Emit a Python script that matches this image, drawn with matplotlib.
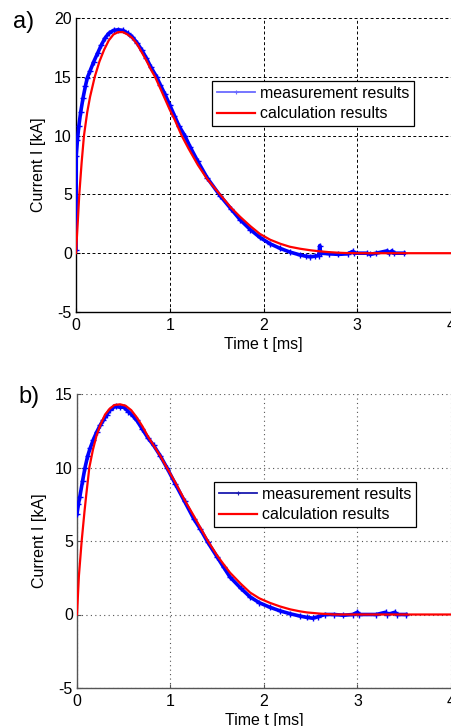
import matplotlib
matplotlib.use("Agg")
import matplotlib.pyplot as plt
from matplotlib.lines import Line2D

plt.rcParams['font.family'] = ['Liberation Sans', 'DejaVu Sans']

# ---------------- data: panel a) ----------------
t_meas_a = [0.0, 0.003, 0.015, 0.03, 0.05, 0.075, 0.1, 0.12, 0.15, 0.19, 0.23, 0.27, 0.31,
            0.35, 0.4, 0.45, 0.5, 0.55, 0.6, 0.65, 0.7, 0.75, 0.8, 0.86, 0.9, 0.95, 1.0,
            1.05, 1.1, 1.16, 1.22, 1.3, 1.4, 1.536, 1.65, 1.75, 1.86, 1.96, 2.07, 2.18,
            2.28, 2.39, 2.45, 2.5, 2.55, 2.59, 2.6, 2.61, 2.7, 2.8, 2.9, 2.95, 2.97, 3.1,
            3.14, 3.2, 3.32, 3.34, 3.37, 3.39, 3.5]
i_meas_a = [0.3, 8.3, 9.6, 10.8, 12.0, 13.2, 14.2, 14.9, 15.5, 16.3, 17.0, 17.7, 18.3,
            18.7, 18.95, 19.0, 18.95, 18.7, 18.4, 17.9, 17.3, 16.6, 15.8, 15.0, 14.3, 13.5, 12.6,
            11.7, 10.8, 10.0, 9.0, 7.8, 6.4, 4.9, 3.8, 2.85, 2.0, 1.35, 0.8, 0.4,
            0.1, -0.15, -0.25, -0.3, -0.25, -0.2, 0.65, 0.0, -0.05, -0.1, -0.05, 0.15, 0.0, 0.0,
            -0.1, 0.0, 0.2, 0.0, 0.2, 0.0, 0.0]

t_calc_a = [0.0, 0.02, 0.035, 0.06, 0.085, 0.12, 0.15, 0.2, 0.25, 0.3, 0.35, 0.4, 0.45,
            0.5, 0.55, 0.6, 0.65, 0.7, 0.75, 0.8, 0.843, 0.9, 0.95, 1.0, 1.05, 1.127,
            1.2, 1.3, 1.4, 1.536, 1.65, 1.75, 1.86, 1.96, 2.07, 2.18, 2.28, 2.39, 2.5,
            2.6, 2.7, 2.8, 2.9, 3.0, 3.5, 4.0]
i_calc_a = [0.0, 2.8, 5.0, 7.7, 10.0, 12.0, 13.3, 15.0, 16.3, 17.3, 18.1, 18.6, 18.8,
            18.8, 18.6, 18.3, 17.8, 17.1, 16.4, 15.6, 15.0, 14.0, 13.1, 12.2, 11.4, 10.0,
            8.9, 7.5, 6.3, 5.0, 3.9, 3.1, 2.3, 1.65, 1.15, 0.8, 0.55, 0.38, 0.25,
            0.16, 0.09, 0.04, 0.01, 0.0, 0.0, 0.0]

# ---------------- data: panel b) ----------------
t_meas_b = [0.0, 0.015, 0.03, 0.06, 0.086, 0.115, 0.14, 0.175, 0.21, 0.25, 0.28, 0.32,
            0.35, 0.39, 0.42, 0.46, 0.5, 0.55, 0.6, 0.64, 0.7, 0.76, 0.82, 0.89, 0.96,
            1.05, 1.15, 1.25, 1.32, 1.4, 1.5, 1.57, 1.636, 1.75, 1.85, 1.95, 2.06, 2.17,
            2.28, 2.38, 2.46, 2.52, 2.58, 2.65, 2.75, 2.85, 2.95, 3.0, 3.02, 3.2, 3.3,
            3.32, 3.4, 3.42, 3.52]
i_meas_b = [6.85, 7.5, 8.0, 9.1, 10.0, 10.8, 11.3, 11.9, 12.4, 12.9, 13.2, 13.6,
            13.9, 14.1, 14.15, 14.1, 14.1, 13.8, 13.5, 13.2, 12.6, 12.0, 11.5, 10.8, 10.0,
            8.9, 7.7, 6.5, 5.8, 4.9, 3.9, 3.2, 2.55, 1.8, 1.2, 0.8, 0.5, 0.25,
            0.05, -0.1, -0.2, -0.25, -0.15, 0.0, 0.0, -0.05, 0.0, 0.15, 0.0, 0.0, 0.15,
            0.0, 0.15, 0.0, 0.0]

t_calc_b = [0.0, 0.02, 0.05, 0.08, 0.1, 0.132, 0.17, 0.21, 0.25, 0.3, 0.35, 0.4, 0.46,
            0.52, 0.58, 0.64, 0.7, 0.76, 0.82, 0.89, 0.96, 1.05, 1.15, 1.25, 1.32, 1.4,
            1.5, 1.57, 1.636, 1.75, 1.85, 1.95, 2.06, 2.17, 2.28, 2.38, 2.46, 2.6, 2.75, 4.0]
i_calc_b = [0.0, 2.6, 5.0, 7.0, 8.2, 10.0, 11.2, 12.2, 12.9, 13.6, 14.0, 14.25, 14.3,
            14.2, 13.9, 13.4, 12.8, 12.1, 11.5, 10.8, 10.0, 9.0, 7.8, 6.7, 5.9, 5.0,
            4.0, 3.4, 2.85, 2.1, 1.5, 1.1, 0.8, 0.55, 0.35, 0.22, 0.14, 0.06, 0.0, 0.0]

xticks = [0, 1, 2, 3, 4]
yticks_a = [-5, 0, 5, 10, 15, 20]
yticks_b = [-5, 0, 5, 10, 15]
labels = ["measurement results", "calculation results"]

W, H = 452, 726
FS = 11.5
fig = plt.figure(figsize=(W / 100, H / 100), dpi=100)

ax_a = fig.add_axes([76 / W, 1 - 312 / H, 375 / W, 294 / H])
ax_b = fig.add_axes([77 / W, 1 - 688 / H, 374 / W, 294 / H])


def style(ax, data, yt, grid_kw, spine_color, leg_anchor, leg_blue):
    t_meas, i_meas, t_calc, i_calc = data
    ax.plot(t_meas, i_meas, color='#0000ff', lw=2.6, marker='+', ms=4, mew=1.0,
            zorder=3)
    ax.plot(t_calc, i_calc, color='#ff0000', lw=1.6, zorder=4)
    ax.set_xlim(0, 4)
    ax.set_ylim(yt[0], yt[-1])
    ax.set_xticks(xticks)
    ax.set_yticks(yt)
    ax.set_xticklabels([str(v) for v in xticks])
    ax.set_yticklabels([str(v) for v in yt])
    ax.tick_params(direction='in', length=3, labelsize=FS, colors=spine_color,
                   labelcolor='black')
    ax.tick_params(axis='x', pad=4)
    ax.tick_params(axis='y', pad=3)
    for s in ['top', 'right']:
        ax.spines[s].set_visible(False)
    for s in ['left', 'bottom']:
        ax.spines[s].set_color(spine_color)
        ax.spines[s].set_linewidth(1.0)
    ax.grid(True, **grid_kw)
    ax.set_axisbelow(True)
    ax.set_xlabel("Time t [ms]", fontsize=FS, labelpad=3)
    ax.set_ylabel("Current I [kA]", fontsize=FS, labelpad=6)
    h0 = Line2D([], [], color=leg_blue, lw=1.3, marker='+', ms=3, mew=0.8)
    h1 = Line2D([], [], color='#ff0000', lw=1.6)
    leg = ax.legend([h0, h1], labels, loc='upper left', bbox_to_anchor=leg_anchor,
                    fontsize=FS, frameon=True, fancybox=False, framealpha=1,
                    edgecolor='black', handlelength=2.4, handletextpad=0.3,
                    borderpad=0.3, labelspacing=0.35, borderaxespad=0, numpoints=1)
    leg.get_frame().set_linewidth(0.9)
    leg.set_zorder(10)


style(ax_a, (t_meas_a, i_meas_a, t_calc_a, i_calc_a), yticks_a,
      dict(color='black', linestyle=(0, (3, 2.5)), linewidth=0.7),
      'black', ((212 - 76) / 375, (312 - 81) / 294), '#6a6aff')

style(ax_b, (t_meas_b, i_meas_b, t_calc_b, i_calc_b), yticks_b,
      dict(color='#555555', linestyle=(0, (1, 3)), linewidth=0.8),
      '#555555', ((214 - 77) / 374, (688 - 482) / 294), '#1a1ab0')

fig.text(13 / W, 1 - 22 / H, "a)", fontsize=17, va='center', ha='left')
fig.text(18 / W, 1 - 397 / H, "b)", fontsize=17, va='center', ha='left')

fig.savefig("out.png", dpi=100)
